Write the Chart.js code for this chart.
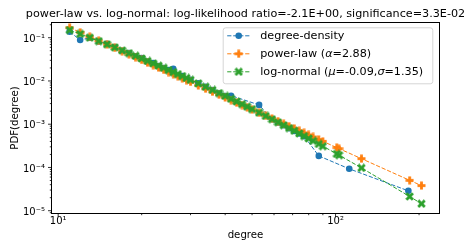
<!DOCTYPE html>
<html>
<head>
<meta charset="utf-8">
<script src="https://cdn.jsdelivr.net/npm/chart.js@4.4.1/dist/chart.umd.min.js"></script>
<style>
  html, body { margin: 0; padding: 0; background: #fff; }
  canvas { display: block; }
</style>
</head>
<body>
<canvas id="chart" width="474" height="247"></canvas>
<script>
// degrees where the two fits are evaluated
const fitDegree = [11, 12, 13, 14, 15, 16, 17, 18, 19, 20, 21, 22, 23, 24, 25, 26, 27, 28, 29, 30,
  32, 34, 36, 38, 40, 42, 44, 46, 48, 50,
  53, 56, 59, 62, 65, 68, 71, 74, 77, 80, 83,
  87, 90, 101, 103, 124, 185, 204];
const powerLawPdf = [0.1709, 0.1330, 0.1056, 0.08535, 0.06996, 0.05808, 0.04880, 0.04139, 0.03541, 0.03055,
  0.02654, 0.02321, 0.02043, 0.01807, 0.01607, 0.01435, 0.01288, 0.01159, 0.01048, 0.009504,
  0.007891, 0.006627, 0.005622, 0.004811, 0.004149, 0.003605, 0.003153, 0.002774, 0.002455, 0.002182,
  0.001845, 0.001575, 0.001355, 0.001175, 0.001025, 0.0009002, 0.0007949, 0.0007057, 0.0006294, 0.0005638, 0.0005070,
  0.0004428, 0.0004016, 0.0002881, 0.0002723, 0.0001596, 0.0000504, 0.00003805];
const logNormalPdf = [0.1504, 0.1222, 0.1005, 0.08366, 0.07034, 0.05964, 0.05098, 0.04390, 0.03805, 0.03316,
  0.02905, 0.02559, 0.02263, 0.02011, 0.01793, 0.01605, 0.01441, 0.01299, 0.01174, 0.01063,
  0.008801, 0.007349, 0.006190, 0.005257, 0.004494, 0.003865, 0.003343, 0.002909, 0.002542, 0.002232,
  0.001851, 0.001549, 0.001305, 0.001109, 0.000947, 0.0008141, 0.0007040, 0.0006113, 0.0005336, 0.0004680, 0.0004118,
  0.0003494, 0.0003103, 0.0002061, 0.0001921, 0.0000977, 0.00002133, 0.00001451];

// empirical degree density
const densityDegree = [11, 12, 13, 14, 15, 16, 17, 18, 19, 20, 21, 22, 23, 24, 25, 26,
  28, 30, 32, 34, 36, 38, 40, 42, 53, 59, 62, 65, 68, 71, 74, 77, 87, 112, 183];
const densityPdf = [0.138, 0.0885, 0.100, 0.082, 0.072, 0.061, 0.050, 0.044, 0.037, 0.034, 0.028, 0.026, 0.022, 0.020, 0.018, 0.019,
  0.013, 0.0106, 0.0088, 0.0073, 0.0062, 0.0052, 0.0045, 0.00457, 0.0028, 0.0013, 0.0011, 0.00095, 0.00081, 0.0007, 0.00061, 0.00053,
  0.000185, 0.000093, 0.0000288];

const xRange = [9.5, 236];
const yRange = [8.85e-6, 0.219];
const xMajorTicks = [10, 100];
const yMajorTicks = [1e-5, 1e-4, 1e-3, 1e-2, 1e-1];

const TITLE = 'power-law vs. log-normal: log-likelihood ratio=-2.1E+00, significance=3.3E-02';
const legendLabels = [
  [['degree-density', false]],
  [['power-law (', false], ['α', true], ['=2.88)', false]],
  [['log-normal (', false], ['μ', true], ['=-0.09,', false], ['σ', true], ['=1.35)', false]]
];

const BLUE = '#1f77b4', ORANGE = '#ff7f0e', GREEN = '#2ca02c';
const FONT = '"DejaVu Sans", sans-serif';

const SUP = { '-': '⁻', '0': '⁰', '1': '¹', '2': '²', '3': '³', '4': '⁴', '5': '⁵', '6': '⁶', '7': '⁷', '8': '⁸', '9': '⁹' };
function powLabel(v) {
  const e = String(Math.round(Math.log10(v)));
  return '10' + e.split('').map(c => SUP[c]).join('');
}

// major ticks + 2..9 minor ticks inside the range
function logTicks(majors, range) {
  const out = [];
  const lo = Math.floor(Math.log10(range[0])), hi = Math.ceil(Math.log10(range[1]));
  for (let e = lo; e <= hi; e++) {
    for (let k = 1; k <= 9; k++) {
      const v = k * Math.pow(10, e);
      if (v < range[0] || v > range[1]) continue;
      const major = majors.some(m => Math.abs(m - v) / m < 1e-9);
      out.push({ value: v, major });
    }
  }
  return out;
}

function makeMarker(color, rotate) {
  const c = document.createElement('canvas');
  c.width = c.height = 9;
  const g = c.getContext('2d');
  g.translate(4.5, 4.5);
  if (rotate) g.rotate(Math.PI / 4);
  const a = rotate ? 4.6 : 4.0, w = 1.4;
  g.fillStyle = color;
  g.fillRect(-a, -w, 2 * a, 2 * w);
  g.fillRect(-w, -a, 2 * w, 2 * a);
  return c;
}
const plusMarker = makeMarker(ORANGE, false);
const xMarker = makeMarker(GREEN, true);

const toPoints = (xs, ys) => xs.map((x, i) => ({ x, y: ys[i] }));

const decorations = {
  id: 'decorations',
  beforeDraw(chart) {
    const ctx = chart.ctx;
    ctx.save();
    ctx.fillStyle = '#fff';
    ctx.fillRect(0, 0, chart.width, chart.height);
    ctx.restore();
  },
  afterDraw(chart) {
    const { ctx, chartArea: a, scales: { x, y } } = chart;
    ctx.save();
    // frame
    ctx.strokeStyle = '#000';
    ctx.lineWidth = 1;
    ctx.strokeRect(a.left - 0.5, a.top - 0.5, a.right - a.left + 1, a.bottom - a.top + 1);
    // tick marks
    ctx.lineWidth = 0.8;
    ctx.beginPath();
    for (const t of x.ticks) {
      const px = x.getPixelForValue(t.value);
      ctx.moveTo(px, a.bottom);
      ctx.lineTo(px, a.bottom + (t.major ? 4 : 2.2));
    }
    for (const t of y.ticks) {
      const py = y.getPixelForValue(t.value);
      ctx.moveTo(a.left, py);
      ctx.lineTo(a.left - (t.major ? 4 : 2.2), py);
    }
    ctx.stroke();

    // title
    ctx.fillStyle = '#000';
    ctx.font = '11.2px ' + FONT;
    ctx.textAlign = 'center';
    ctx.textBaseline = 'middle';
    ctx.fillText(TITLE, (a.left + a.right) / 2, 14.5);

    // legend
    const bx = a.right - 216.3, by = a.top + 4.3, bw = 209.6, bh = 56;
    ctx.beginPath();
    ctx.roundRect(bx + 0.5, by + 0.5, bw, bh, 2.5);
    ctx.fillStyle = 'rgba(255,255,255,0.8)';
    ctx.fill();
    ctx.strokeStyle = '#d5d5d5';
    ctx.lineWidth = 1;
    ctx.stroke();

    const markers = ['circle', plusMarker, xMarker];
    const colors = [BLUE, ORANGE, GREEN];
    legendLabels.forEach((parts, i) => {
      const ry = by + 8.5 + i * 18;
      const hx0 = bx + 4.5, hx1 = bx + 27.5, hm = (hx0 + hx1) / 2;
      ctx.strokeStyle = colors[i];
      ctx.lineWidth = 1;
      ctx.setLineDash([4.2, 1.8]);
      ctx.beginPath();
      ctx.moveTo(hx0, ry);
      ctx.lineTo(hx1, ry);
      ctx.stroke();
      ctx.setLineDash([]);
      if (markers[i] === 'circle') {
        ctx.fillStyle = colors[i];
        ctx.beginPath();
        ctx.arc(hm, ry, 3.3, 0, Math.PI * 2);
        ctx.fill();
      } else {
        ctx.drawImage(markers[i], hm - 4.5, ry - 4.5);
      }
      let tx = bx + 37.5;
      ctx.fillStyle = '#000';
      ctx.textAlign = 'left';
      ctx.textBaseline = 'middle';
      for (const [text, italic] of parts) {
        ctx.font = (italic ? 'italic ' : '') + '11.2px ' + FONT;
        ctx.fillText(text, tx, ry);
        tx += ctx.measureText(text).width;
      }
    });
    ctx.restore();
  }
};

const lineStyle = { showLine: true, borderWidth: 1, borderDash: [4.2, 1.8] };

new Chart(document.getElementById('chart'), {
  type: 'scatter',
  data: {
    datasets: [
      {
        ...lineStyle,
        label: 'degree-density',
        data: toPoints(densityDegree, densityPdf),
        borderColor: BLUE,
        backgroundColor: BLUE,
        pointStyle: 'circle',
        pointRadius: 3.3,
        pointBorderWidth: 0,
        order: 2
      },
      {
        ...lineStyle,
        label: 'power-law',
        data: toPoints(fitDegree, powerLawPdf),
        borderColor: ORANGE,
        backgroundColor: ORANGE,
        pointStyle: plusMarker,
        order: 1
      },
      {
        ...lineStyle,
        label: 'log-normal',
        data: toPoints(fitDegree, logNormalPdf),
        borderColor: GREEN,
        backgroundColor: GREEN,
        pointStyle: xMarker,
        order: 0
      }
    ]
  },
  options: {
    responsive: false,
    animation: false,
    events: [],
    layout: { padding: { top: 23, right: 35, bottom: 0, left: 0 } },
    plugins: {
      legend: { display: false },
      tooltip: { enabled: false },
      title: { display: false }
    },
    scales: {
      x: {
        type: 'logarithmic',
        min: xRange[0],
        max: xRange[1],
        grid: { display: false, drawTicks: false },
        border: { display: false },
        afterBuildTicks: s => { s.ticks = logTicks(xMajorTicks, xRange); },
        afterFit: s => { s.height = 34; },
        ticks: {
          autoSkip: false,
          maxRotation: 0,
          padding: 2.5,
          color: '#000',
          font: { family: FONT, size: 10 },
          callback: (v, i, ticks) => ticks[i].major ? powLabel(v) : ''
        },
        title: {
          display: true,
          text: 'degree',
          color: '#000',
          font: { family: FONT, size: 10.2 },
          padding: { top: 0, bottom: 6 }
        }
      },
      y: {
        type: 'logarithmic',
        min: yRange[0],
        max: yRange[1],
        grid: { display: false, drawTicks: false },
        border: { display: false },
        afterBuildTicks: s => { s.ticks = logTicks(yMajorTicks, yRange); },
        afterFit: s => { s.width = 52; },
        ticks: {
          autoSkip: false,
          padding: 7,
          labelOffset: 1.5,
          color: '#000',
          font: { family: FONT, size: 10 },
          callback: (v, i, ticks) => ticks[i].major ? powLabel(v) : ''
        },
        title: {
          display: true,
          text: 'PDF(degree)',
          color: '#000',
          font: { family: FONT, size: 10.2 },
          padding: { top: 9, bottom: 0 }
        }
      }
    }
  },
  plugins: [decorations]
});
</script>
</body>
</html>
